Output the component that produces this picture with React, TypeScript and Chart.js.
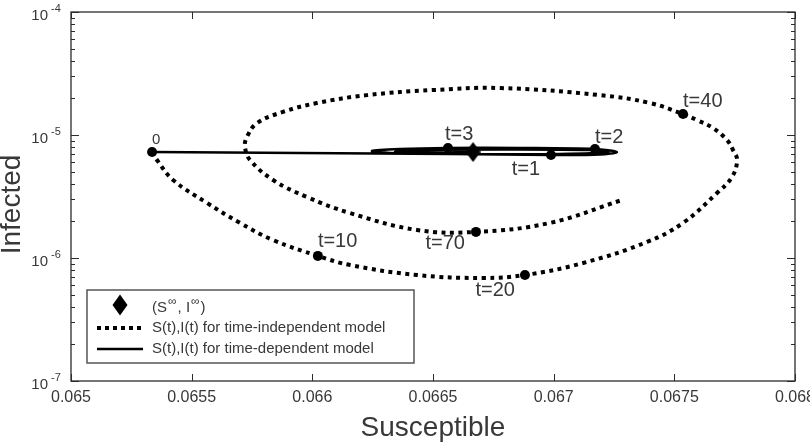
import React, { useEffect, useRef } from "react";
import { Chart, registerables } from "chart.js";
Chart.register(...registerables);

// ---- axis ticks ----
const xTickValues = [0.065, 0.0655, 0.066, 0.0665, 0.067, 0.0675, 0.068];
const xTickLabels = ["0.065", "0.0655", "0.066", "0.0665", "0.067", "0.0675", "0.068"];
const yDecadeValues = [1e-7, 1e-6, 1e-5, 1e-4];
const yDecadeExponents = ["-7", "-6", "-5", "-4"];
const xTitle = "Susceptible";
const yTitle = "Infected";

// ---- time-independent model trajectory ----
const indepS = [
  0.065336, 0.065356, 0.065423, 0.065564, 0.0657, 0.065837, 0.066023, 0.066156, 0.066434, 0.066707,
  0.066881, 0.067122, 0.067387, 0.067536, 0.067677, 0.067739, 0.06776, 0.067743, 0.067718, 0.06766,
  0.067594, 0.067536, 0.067399, 0.067192, 0.066778, 0.0665, 0.066227, 0.066019, 0.065878, 0.065771,
  0.065729, 0.065721, 0.065742, 0.065837, 0.065978, 0.066156, 0.066434, 0.066678, 0.066985, 0.067283,
];
const indepI = [
  7.27e-6, 6.26e-6, 4.31e-6, 2.8e-6, 1.93e-6, 1.4e-6, 1.04e-6, 8.77e-7, 7.27e-7, 6.88e-7,
  7.27e-7, 9.11e-7, 1.35e-6, 1.93e-6, 3.38e-6, 4.56e-6, 6.26e-6, 7.55e-6, 9.11e-6, 1.14e-5,
  1.32e-5, 1.48e-5, 1.82e-5, 2.11e-5, 2.41e-5, 2.32e-5, 2.11e-5, 1.82e-5, 1.54e-5, 1.25e-5,
  9.63e-6, 7.99e-6, 6.26e-6, 4.31e-6, 3.13e-6, 2.32e-6, 1.69e-6, 1.63e-6, 1.93e-6, 2.96e-6,
];

// ---- time-dependent model trajectory ----
const depS = [
  0.065336, 0.065949, 0.06657, 0.066989, 0.067192, 0.067262, 0.067171, 0.06686, 0.066562, 0.066363,
  0.066247, 0.066322, 0.066653, 0.067026, 0.067225, 0.06715, 0.066778, 0.066446, 0.066342, 0.066446,
  0.066666,
];
const depI = [
  7.27e-6, 7.14e-6, 7.01e-6, 6.88e-6, 6.94e-6, 7.27e-6, 7.69e-6, 7.84e-6, 7.84e-6, 7.69e-6,
  7.41e-6, 7.14e-6, 7.01e-6, 7.01e-6, 7.27e-6, 7.55e-6, 7.62e-6, 7.55e-6, 7.34e-6, 7.2e-6,
  7.27e-6,
];

// ---- equilibrium ----
const equilibriumS = [0.066666];
const equilibriumI = [7.27e-6];

// ---- marked time points ----
const markerLabels = ["0", "t=10", "t=20", "t=40", "t=70", "t=1", "t=3", "t=2"];
const markerS = [0.065336, 0.066023, 0.066881, 0.067536, 0.066678, 0.066989, 0.066562, 0.067171];
const markerI = [7.27e-6, 1.04e-6, 7.27e-7, 1.48e-5, 1.63e-6, 6.88e-6, 7.84e-6, 7.69e-6];

// ---- legend ----
const legendIndep = "S(t),I(t) for time-independent model";
const legendDep = "S(t),I(t) for time-dependent model";

// label placement style (pixel offsets from the marker, alignment)
const labelStyle: Record<string, { dx: number; dy: number; align: CanvasTextAlign; size: number }> = {
  "0": { dx: 0, dy: -12, align: "left", size: 15 },
  "t=10": { dx: 0, dy: -14, align: "left", size: 20 },
  "t=20": { dx: -10, dy: 15, align: "right", size: 20 },
  "t=40": { dx: 0, dy: -13, align: "left", size: 20 },
  "t=70": { dx: -11, dy: 12, align: "right", size: 20 },
  "t=1": { dx: -11, dy: 15, align: "right", size: 20 },
  "t=3": { dx: -3, dy: -14, align: "left", size: 20 },
  "t=2": { dx: 0, dy: -12, align: "left", size: 20 },
};

const FONT = "'Liberation Sans', Arial, sans-serif";
const TEXT = "#383838";

function makeDiamond(w: number, h: number) {
  const c = document.createElement("canvas");
  c.width = w;
  c.height = h;
  const g = c.getContext("2d")!;
  g.fillStyle = "#000";
  g.beginPath();
  g.moveTo(w / 2, 0);
  g.lineTo(w, h / 2);
  g.lineTo(w / 2, h);
  g.lineTo(0, h / 2);
  g.closePath();
  g.fill();
  return c;
}

function drawDiamond(ctx: CanvasRenderingContext2D, cx: number, cy: number, w: number, h: number) {
  ctx.beginPath();
  ctx.moveTo(cx, cy - h / 2);
  ctx.lineTo(cx + w / 2, cy);
  ctx.lineTo(cx, cy + h / 2);
  ctx.lineTo(cx - w / 2, cy);
  ctx.closePath();
  ctx.fill();
}

const overlay = {
  id: "overlay",
  afterDatasetsDraw(chart: any) {
    const ctx: CanvasRenderingContext2D = chart.ctx;
    const a = chart.chartArea;
    const xs = chart.scales.x;
    const ys = chart.scales.y;
    ctx.save();

    // frame
    ctx.strokeStyle = "#2b2b2b";
    ctx.lineWidth = 1.3;
    ctx.strokeRect(a.left, a.top, a.right - a.left, a.bottom - a.top);

    // x ticks (inside, bottom & top)
    ctx.lineWidth = 1;
    ctx.beginPath();
    xTickValues.forEach((v) => {
      const px = Math.round(xs.getPixelForValue(v)) + 0.5;
      ctx.moveTo(px, a.bottom);
      ctx.lineTo(px, a.bottom - 7);
      ctx.moveTo(px, a.top);
      ctx.lineTo(px, a.top + 7);
    });
    // y ticks (decades & minors)
    yDecadeValues.forEach((d, i) => {
      const py = Math.round(ys.getPixelForValue(d)) + 0.5;
      ctx.moveTo(a.left, py);
      ctx.lineTo(a.left + 8, py);
      ctx.moveTo(a.right, py);
      ctx.lineTo(a.right - 8, py);
      if (i < yDecadeValues.length - 1) {
        for (let m = 2; m <= 9; m++) {
          const pm = Math.round(ys.getPixelForValue(d * m)) + 0.5;
          ctx.moveTo(a.left, pm);
          ctx.lineTo(a.left + 4, pm);
          ctx.moveTo(a.right, pm);
          ctx.lineTo(a.right - 4, pm);
        }
      }
    });
    ctx.stroke();

    // x tick labels
    ctx.fillStyle = TEXT;
    ctx.font = `16px ${FONT}`;
    ctx.textAlign = "center";
    ctx.textBaseline = "middle";
    xTickValues.forEach((v, i) => {
      ctx.fillText(xTickLabels[i], xs.getPixelForValue(v), a.bottom + 17);
    });

    // y tick labels 10^k
    yDecadeValues.forEach((d, i) => {
      const py = ys.getPixelForValue(d);
      ctx.font = `15px ${FONT}`;
      ctx.textAlign = "right";
      ctx.fillText("10", a.left - 23, py + 4);
      ctx.font = `11px ${FONT}`;
      ctx.textAlign = "left";
      ctx.fillText(yDecadeExponents[i], a.left - 20, py - 3);
    });

    // axis titles
    ctx.font = `28px ${FONT}`;
    ctx.textAlign = "center";
    ctx.fillText(xTitle, (a.left + a.right) / 2, a.bottom + 47);
    ctx.save();
    ctx.translate(12, (a.top + a.bottom) / 2 + 8);
    ctx.rotate(-Math.PI / 2);
    ctx.fillText(yTitle, 0, 0);
    ctx.restore();

    // marker labels
    markerLabels.forEach((lab, i) => {
      const st = labelStyle[lab];
      const px = xs.getPixelForValue(markerS[i]);
      const py = ys.getPixelForValue(markerI[i]);
      ctx.font = `${st.size}px ${FONT}`;
      ctx.textAlign = st.align;
      ctx.textBaseline = "middle";
      ctx.fillText(lab, px + st.dx, py + st.dy);
    });

    // legend box
    const lx = a.left + 16;
    const ly = a.top + 278;
    const lw = 327;
    const lh = 73;
    ctx.fillStyle = "#ffffff";
    ctx.fillRect(lx, ly, lw, lh);
    ctx.strokeStyle = "#555555";
    ctx.lineWidth = 1.5;
    ctx.strokeRect(lx, ly, lw, lh);

    const sx0 = lx + 10;
    const sx1 = lx + 56;
    const tx = lx + 65;
    const r1 = ly + 16;
    const r2 = ly + 38;
    const r3 = ly + 59;

    ctx.fillStyle = "#000";
    drawDiamond(ctx, (sx0 + sx1) / 2, r1 - 1, 15, 21);

    ctx.strokeStyle = "#000";
    ctx.lineWidth = 4;
    ctx.lineCap = "butt";
    ctx.setLineDash([4, 4]);
    ctx.beginPath();
    ctx.moveTo(sx0, r2);
    ctx.lineTo(sx1, r2);
    ctx.stroke();
    ctx.setLineDash([]);
    ctx.lineWidth = 2.5;
    ctx.beginPath();
    ctx.moveTo(sx0, r3);
    ctx.lineTo(sx1, r3);
    ctx.stroke();

    ctx.fillStyle = TEXT;
    ctx.textAlign = "left";
    ctx.textBaseline = "middle";
    // (S∞, I∞)
    let cx = tx;
    const parts: [string, boolean][] = [["(S", false], ["∞", true], [", I", false], ["∞", true], [")", false]];
    parts.forEach(([s, sup]) => {
      ctx.font = sup ? `12px ${FONT}` : `15px ${FONT}`;
      ctx.fillText(s, cx, sup ? r1 + 2 - 6 : r1 + 2);
      cx += ctx.measureText(s).width + 1;
    });
    ctx.font = `15px ${FONT}`;
    ctx.fillText(legendIndep, tx, r2);
    ctx.fillText(legendDep, tx, r3);

    ctx.restore();
  },
};

export default function App() {
  const ref = useRef<HTMLCanvasElement | null>(null);
  useEffect(() => {
    if (!ref.current) return;
    const diamond = makeDiamond(15, 20);
    const indepData = indepS.map((s, i) => ({ x: s, y: indepI[i] }));
    const depData = depS.map((s, i) => ({ x: s, y: depI[i] }));
    const markerData = markerS.map((s, i) => ({ x: s, y: markerI[i] }));
    const eqData = equilibriumS.map((s, i) => ({ x: s, y: equilibriumI[i] }));
    const chart = new Chart(ref.current, {
      type: "scatter",
      data: {
        datasets: [
          {
            label: legendIndep,
            data: indepData,
            showLine: true,
            borderColor: "#000",
            borderWidth: 4,
            borderDash: [4, 4.5],
            borderCapStyle: "butt",
            tension: 0.4,
            pointRadius: 0,
            fill: false,
          },
          {
            label: legendDep,
            data: depData,
            showLine: true,
            borderColor: "#000",
            borderWidth: 2.5,
            tension: 0.3,
            pointRadius: 0,
            fill: false,
          },
          {
            label: "markers",
            data: markerData,
            showLine: false,
            pointRadius: 5,
            pointBackgroundColor: "#000",
            pointBorderColor: "#000",
            pointBorderWidth: 0,
          },
          {
            label: "equilibrium",
            data: eqData,
            showLine: false,
            pointStyle: diamond as any,
            pointRadius: 8,
          },
        ],
      },
      options: {
        responsive: false,
        animation: false,
        layout: { padding: { left: 71, right: 15, top: 12, bottom: 67 } },
        plugins: { legend: { display: false }, tooltip: { enabled: false } },
        scales: {
          x: { type: "linear", display: false, min: 0.065, max: 0.068 },
          y: { type: "logarithmic", display: false, min: 1e-7, max: 1e-4 },
        },
      },
      plugins: [overlay],
    });
    return () => chart.destroy();
  }, []);
  return (
    <div style={{ position: "absolute", left: 0, top: 0, width: 810, height: 448, background: "#fff" }}>
      <canvas ref={ref} width={810} height={448} style={{ display: "block" }} />
    </div>
  );
}
